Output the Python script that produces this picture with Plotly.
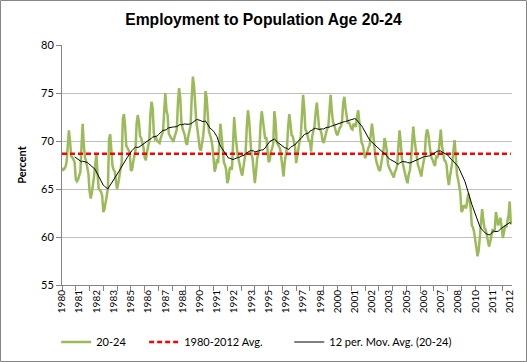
import plotly.graph_objects as go
import pandas as pd

# Monthly employment-to-population ratio, age 20-24 (percent), Jan 1980 onward
v1980 = [67.2, 67.0, 67.1, 67.3, 67.8, 70.2, 71.1, 70.0, 68.4, 68.3, 68.0, 67.8]
v1981 = [66.0, 65.8, 66.0, 66.3, 66.8, 69.5, 71.8, 69.6, 68.3, 67.9, 67.4, 66.6]
v1982 = [64.8, 64.0, 64.6, 65.4, 66.4, 67.6, 68.6, 66.5, 65.0, 64.9, 64.7, 64.3]
v1983 = [62.6, 62.9, 63.5, 64.3, 65.1, 70.2, 70.7, 68.8, 67.4, 67.0, 66.8, 65.8]
v1984 = [65.0, 65.6, 66.3, 67.0, 67.8, 72.3, 72.8, 71.5, 69.5, 69.3, 69.0, 68.8]
v1985 = [66.9, 67.0, 67.8, 68.5, 69.0, 71.8, 72.7, 72.0, 70.5, 70.3, 69.8, 69.3]
v1986 = [68.3, 68.0, 68.8, 69.6, 70.0, 72.8, 74.1, 73.4, 70.8, 70.2, 70.3, 70.0]
v1987 = [69.9, 69.8, 70.3, 70.6, 71.0, 73.0, 75.0, 73.2, 72.7, 70.8, 70.5, 70.3]
v1988 = [70.2, 69.9, 70.4, 70.8, 71.2, 74.0, 75.5, 74.5, 72.0, 71.3, 71.0, 70.6]
v1989 = [69.8, 69.6, 70.5, 71.0, 71.6, 74.5, 76.7, 75.8, 73.5, 72.0, 71.2, 70.4]
v1990 = [69.2, 69.0, 69.6, 70.5, 72.0, 75.2, 74.5, 72.7, 71.0, 70.6, 70.2, 69.5]
v1991 = [67.5, 66.8, 67.3, 68.1, 67.7, 70.5, 71.8, 70.5, 68.9, 67.8, 67.5, 67.0]
v1992 = [65.6, 66.0, 67.1, 67.3, 67.0, 70.3, 72.5, 70.8, 69.6, 68.5, 68.0, 67.2]
v1993 = [66.8, 66.4, 67.2, 68.0, 68.9, 71.5, 73.2, 72.2, 70.0, 68.6, 68.2, 66.5]
v1994 = [65.6, 66.8, 68.2, 68.6, 69.2, 71.8, 73.1, 72.2, 70.9, 70.2, 70.4, 69.0]
v1995 = [67.8, 68.0, 68.9, 69.2, 69.7, 73.1, 72.0, 69.9, 69.6, 69.5, 69.2, 68.3]
v1996 = [67.0, 66.3, 67.8, 68.9, 69.3, 71.5, 72.8, 71.8, 70.6, 70.5, 70.0, 69.4]
v1997 = [67.7, 68.5, 69.6, 70.0, 70.5, 73.0, 74.8, 73.5, 71.2, 71.0, 70.3, 70.0]
v1998 = [70.0, 68.9, 70.5, 71.2, 71.6, 73.0, 74.0, 72.7, 71.3, 71.2, 70.8, 70.0]
v1999 = [69.8, 70.3, 71.0, 71.3, 71.5, 73.5, 74.8, 73.2, 72.0, 71.7, 71.2, 70.8]
v2000 = [70.6, 71.0, 71.4, 71.5, 72.2, 74.0, 74.6, 73.4, 72.5, 71.8, 72.0, 71.6]
v2001 = [71.3, 71.2, 71.8, 71.6, 71.5, 72.5, 73.2, 72.0, 70.5, 69.8, 69.6, 69.0]
v2002 = [68.2, 68.5, 69.0, 69.3, 69.6, 71.0, 71.8, 70.8, 69.2, 68.4, 67.8, 67.4]
v2003 = [67.0, 66.9, 67.6, 68.3, 69.0, 70.3, 69.8, 68.9, 67.6, 67.2, 66.9, 66.8]
v2004 = [66.5, 66.2, 66.8, 67.0, 67.5, 69.8, 71.1, 70.0, 68.2, 67.6, 66.9, 66.5]
v2005 = [66.0, 65.6, 66.5, 66.9, 68.0, 70.5, 71.5, 70.2, 69.2, 68.3, 67.5, 67.2]
v2006 = [66.6, 66.3, 67.2, 67.8, 68.5, 70.5, 71.2, 70.8, 69.5, 68.8, 68.2, 68.0]
v2007 = [67.6, 67.4, 68.5, 68.2, 68.8, 70.5, 71.2, 69.5, 68.9, 68.0, 67.9, 67.5]
v2008 = [66.2, 65.4, 66.3, 66.9, 67.8, 69.0, 70.1, 68.5, 66.6, 66.0, 65.0, 64.6]
v2009 = [62.6, 62.8, 63.3, 63.2, 63.0, 63.8, 64.5, 63.8, 63.0, 61.2, 61.0, 60.5]
v2010 = [59.5, 59.1, 58.0, 58.6, 60.0, 61.5, 62.9, 61.8, 60.9, 60.8, 60.2, 59.8]
v2011 = [59.0, 59.5, 60.0, 60.7, 60.6, 60.8, 62.6, 62.0, 61.2, 61.7, 62.0, 61.0]
v2012 = [59.9, 60.5, 61.2, 61.0, 61.5, 62.3, 63.7, 61.3]

avg_1980_2012 = 68.67
y_ticks = [55, 60, 65, 70, 75, 80]

yearly = [v1980, v1981, v1982, v1983, v1984, v1985, v1986, v1987, v1988, v1989,
          v1990, v1991, v1992, v1993, v1994, v1995, v1996, v1997, v1998, v1999,
          v2000, v2001, v2002, v2003, v2004, v2005, v2006, v2007, v2008, v2009,
          v2010, v2011, v2012]
values = [v for yr in yearly for v in yr]
N = len(values)
idx = list(range(N))
dates = pd.date_range("1980-01-01", periods=N, freq="MS")
mov_avg = pd.Series(values).rolling(12).mean()

label_idx = list(range(0, N, 15))
label_text = [str(dates[i].year) for i in label_idx]
tick_idx = list(range(0, N, 12))

fig = go.Figure()
fig.add_trace(go.Scatter(x=idx, y=values, mode="lines", name="20-24", showlegend=True,
                         line=dict(color="#9BBB59", width=2.5), legend="legend"))
fig.add_trace(go.Scatter(x=idx, y=[avg_1980_2012] * N, mode="lines", name="1980-2012 Avg.",
                         showlegend=True,
                         line=dict(color="#FF0000", width=2.5, dash="5px,3px"), legend="legend2"))
fig.add_trace(go.Scatter(x=idx[11:], y=list(mov_avg[11:]), mode="lines",
                         name="12 per. Mov. Avg. (20-24)", showlegend=True,
                         line=dict(color="#000000", width=1), legend="legend3"))

legend_font = dict(family="Lato, Liberation Sans, Arial", size=11, color="#000000")
ly = -0.2375
fig.update_layout(
    width=527, height=362,
    showlegend=True,
    margin=dict(l=62, r=15, t=45, b=77, autoexpand=False),
    paper_bgcolor="white", plot_bgcolor="white",
    title=dict(text="<b>Employment to Population Age 20-24</b>", x=0.5, xanchor="center",
               y=1 - 20 / 362, yanchor="middle",
               font=dict(family="Liberation Sans, Arial", size=15.7, color="#000000")),
    xaxis=dict(range=[0, N], tickmode="array", tickvals=label_idx, ticktext=label_text,
               tickangle=-90, ticks="", showgrid=False, zeroline=False, automargin=False,
               showline=True, linecolor="#868686", linewidth=1,
               tickfont=dict(family="Lato, Liberation Sans, Arial", size=10, color="#000000"),
               minor=dict(tickmode="array", tickvals=tick_idx, ticks="outside", ticklen=5,
                          tickcolor="#868686", tickwidth=1, showgrid=False)),
    yaxis=dict(range=[55, 80], tickmode="array", tickvals=y_ticks, ticks="outside", ticklen=5,
               tickcolor="#868686", showgrid=True, gridcolor="#BFBFBF", gridwidth=1,
               zeroline=False, showline=True, linecolor="#868686", linewidth=1, automargin=False,
               tickfont=dict(family="Lato, Liberation Sans, Arial", size=11, color="#000000"),
               title=dict(text="<b>Percent</b>", standoff=12,
                          font=dict(family="Lato, Liberation Sans, Arial", size=11, color="#000000"))),
    legend=dict(x=-0.013, y=ly, xanchor="left", yanchor="middle", orientation="h",
                font=legend_font, bgcolor="rgba(0,0,0,0)"),
    legend2=dict(x=0.1825, y=ly, xanchor="left", yanchor="middle", orientation="h",
                 font=legend_font, bgcolor="rgba(0,0,0,0)"),
    legend3=dict(x=0.505, y=ly, xanchor="left", yanchor="middle", orientation="h",
                 font=legend_font, bgcolor="rgba(0,0,0,0)"),
    shapes=[dict(type="rect", xref="paper", yref="paper",
                 x0=(0.5 - 62) / 450, x1=(526.5 - 62) / 450,
                 y0=(285 - 361.5) / 240, y1=(285 - 0.5) / 240,
                 line=dict(color="#868686", width=1), fillcolor="rgba(0,0,0,0)", layer="below")],
)

fig.write_html("out.html", config={"displayModeBar": False},
               post_script="document.body.style.margin='0';")
